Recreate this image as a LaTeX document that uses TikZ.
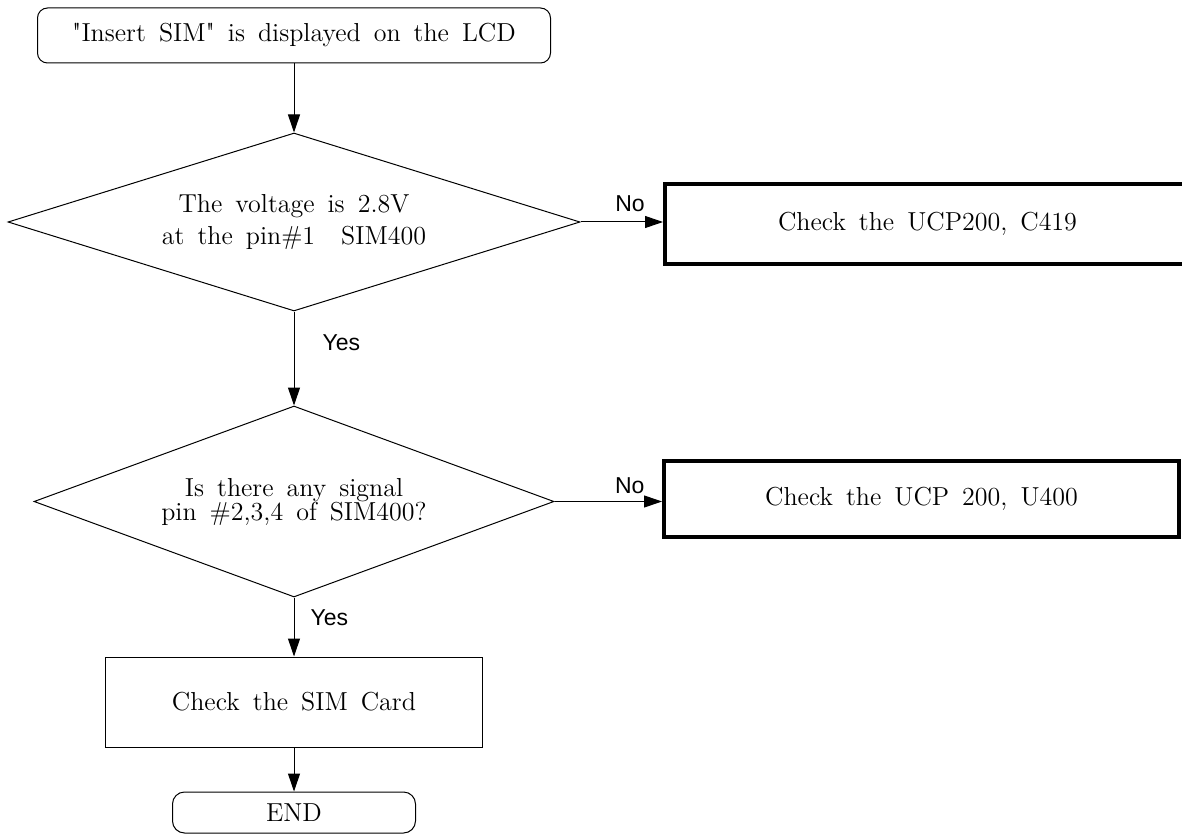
\documentclass[tikz,border=0pt]{standalone}
\usepackage{fontspec}
\setsansfont{Liberation Sans}
\usepackage{tikz}
\usetikzlibrary{shapes,arrows.meta,positioning}
\newcommand\chartfont{\fontsize{13}{15}\selectfont\spaceskip=0.5em plus 0.1em minus 0.1em\relax}
\tikzstyle{terminal} = [draw,rectangle,rounded corners=5pt,line width=0.5pt,inner sep=0,font=\chartfont]
\tikzstyle{decision} = [draw,diamond,line width=0.5pt,inner sep=0,align=center,font=\chartfont]
\tikzstyle{process} = [draw,rectangle,line width=0.5pt,inner sep=0,font=\chartfont]
\tikzstyle{check} = [process,line width=2pt]
\tikzstyle{flow} = [-{Triangle[length=9pt,width=6pt]},line width=0.5pt]
\tikzstyle{answer} = [inner sep=0,font=\sffamily\fontsize{11.5}{12}\selectfont]

\begin{document}
\begin{tikzpicture}[x=0.5pt,y=-0.5pt]
  \useasboundingbox (0,0) rectangle (1182,834);
  \node[terminal,minimum width=256.5pt,minimum height=27.5pt] (start) at (294,35.5) {\textquotedbl Insert SIM\textquotedbl{} is displayed on the LCD};
  \node[decision,aspect=3.2,minimum width=286pt,minimum height=89pt] (volt) at (294,222) {The voltage is 2.8V\\[1pt]at the pin\#1~~SIM400};
  \node[check,minimum width=262.5pt,minimum height=40pt] (ucp) at (927.5,224) {Check the UCP200, C419};
  \node[decision,aspect=2.72,minimum width=260pt,minimum height=95.5pt] (sig) at (294,501.5) {Is there any signal\\[-3pt]pin \#2,3,4 of SIM400?};
  \node[check,minimum width=257.5pt,minimum height=38pt] (ucpb) at (921.5,499) {Check the UCP 200, U400};
  \node[process,minimum width=188.5pt,minimum height=45pt] (card) at (294,702) {Check the SIM Card};
  \node[terminal,rounded corners=6pt,minimum width=121.5pt,minimum height=20.5pt] (end) at (294,812.5) {END};
  \draw[flow] (start) -- (volt);
  \draw[flow] (volt.east) -- (volt.east -| ucp.west) node[answer,pos=0.6,above=5pt] {No};
  \draw[flow] (volt) -- (sig) node[answer,pos=0.33,right=14pt] {Yes};
  \draw[flow] (sig.east) -- (sig.east -| ucpb.west) node[answer,pos=0.7,above=3.5pt] {No};
  \draw[flow] (sig) -- (card) node[answer,pos=0.35,right=8pt] {Yes};
  \draw[flow] (card) -- (end);
\end{tikzpicture}
\end{document}
